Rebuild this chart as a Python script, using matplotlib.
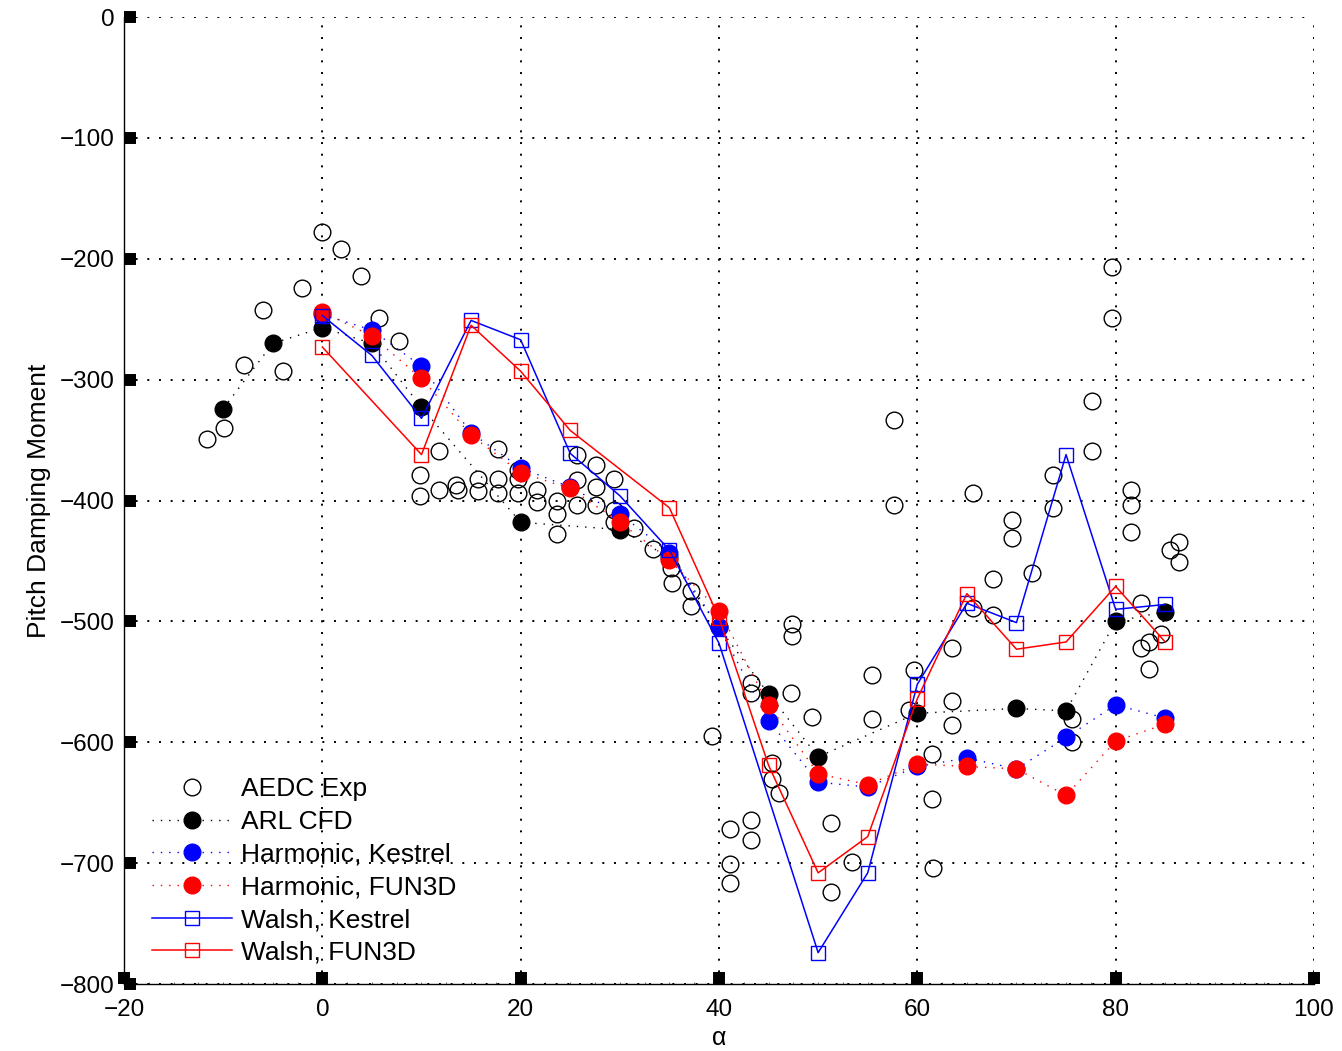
import matplotlib
matplotlib.use("Agg")
import matplotlib.pyplot as plt
from matplotlib.ticker import MultipleLocator

plt.rcParams['font.family'] = ['Liberation Sans', 'DejaVu Sans']

# AEDC experimental data (alpha, pitch damping moment)
aedc_alpha = [-11.6, -9.9, -7.9, -6.0, -4.0, -2.0, 0.0, 1.9, 3.9, 5.7, 7.7,
              9.8, 9.8, 11.8, 11.8, 13.5, 13.7, 15.7, 15.7, 17.7, 17.7, 17.7,
              19.7, 19.7, 19.7, 21.6, 21.6, 23.7, 23.7, 23.7, 25.7, 25.7, 25.7,
              27.6, 27.6, 27.6, 29.4, 29.4, 29.4, 31.4, 33.3, 35.2, 35.3, 37.2,
              37.2, 39.3, 41.1, 41.1, 41.1, 43.2, 43.2, 43.2, 43.2, 45.3, 45.3,
              46.1, 47.4, 47.4, 47.3, 49.4, 51.3, 51.3, 53.4, 55.4, 55.4, 57.6,
              57.6, 59.7, 59.2, 61.5, 61.5, 61.6, 63.5, 63.5, 63.5, 65.6, 65.6,
              67.6, 67.6, 69.6, 69.6, 71.6, 73.7, 73.7, 75.6, 75.6, 77.6, 77.6,
              79.6, 79.6, 81.6, 81.6, 81.6, 82.6, 82.6, 83.4, 83.4, 84.6, 85.5,
              86.4, 86.4]
aedc_moment = [-349, -340, -288, -242, -293, -224, -178, -192, -214, -249, -268,
               -379, -396, -359, -391, -387, -391, -382, -392, -357, -382, -394,
               -375, -382, -394, -391, -401, -400, -411, -428, -362, -383, -404,
               -371, -389, -404, -382, -408, -418, -423, -440, -456, -468, -475,
               -487, -595, -672, -701, -716, -551, -559, -664, -681, -617, -630,
               -642, -502, -512, -559, -579, -667, -724, -699, -544, -581, -333,
               -404, -540, -573, -610, -647, -704, -522, -566, -586, -394, -489,
               -465, -495, -416, -431, -460, -379, -406, -581, -600, -318, -359,
               -207, -249, -391, -404, -426, -485, -522, -517, -539, -510, -441,
               -434, -451]

# ARL CFD
arl_alpha = [-10, -5, 0, 5, 10, 20, 30, 35, 40, 45, 50, 60, 70, 75, 80, 85]
arl_moment = [-324, -270, -257, -270, -323, -418, -424, -447, -505, -560, -612,
              -576, -572, -574, -500, -492]

# Harmonic balance results
harm_alpha = [0, 5, 10, 15, 20, 25, 30, 35, 40, 45, 50, 55, 60, 65, 70, 75, 80, 85]
harm_kestrel = [-246, -259, -289, -344, -373, -389, -411, -443, -505, -582, -633,
                -637, -620, -613, -622, -596, -569, -580]
harm_fun3d = [-244, -264, -299, -346, -377, -390, -418, -449, -491, -569, -626,
              -635, -618, -620, -622, -644, -599, -585]

# Walsh function results
walsh_k_alpha = [0, 5, 10, 15, 20, 25, 30, 35, 40, 50, 55, 60, 65, 70, 75, 80, 85]
walsh_kestrel = [-247, -280, -332, -251, -267, -361, -396, -441, -518, -774, -708,
                 -552, -485, -501, -362, -490, -486]
walsh_f_alpha = [0, 10, 15, 20, 25, 35, 40, 45, 50, 55, 60, 65, 70, 75, 80, 85]
walsh_fun3d = [-273, -362, -255, -293, -342, -406, -497, -619, -708, -678, -564,
               -477, -523, -517, -471, -517]

x_ticks = [-20, 0, 20, 40, 60, 80, 100]
y_ticks = [0, -100, -200, -300, -400, -500, -600, -700, -800]

fig = plt.figure(figsize=(13.42, 10.51), dpi=100)
ax = fig.add_axes([0.0924, 0.0637, 0.8867, 0.9201])

dotted = (0, (1, 5))

ax.plot(aedc_alpha, aedc_moment, linestyle='none', marker='o', markersize=12,
        markerfacecolor='none', markeredgecolor='black', markeredgewidth=1.0,
        label='AEDC Exp')
ax.plot(arl_alpha, arl_moment, linestyle=dotted, color='black', linewidth=1.0,
        marker='o', markersize=12, markerfacecolor='black',
        markeredgecolor='black', label='ARL CFD')
ax.plot(harm_alpha, harm_kestrel, linestyle=dotted, color='blue', linewidth=1.0,
        marker='o', markersize=12, markerfacecolor='blue',
        markeredgecolor='blue', label='Harmonic, Kestrel')
ax.plot(harm_alpha, harm_fun3d, linestyle=dotted, color='red', linewidth=1.0,
        marker='o', markersize=12, markerfacecolor='red',
        markeredgecolor='red', label='Harmonic, FUN3D')
ax.plot(walsh_k_alpha, walsh_kestrel, linestyle='-', color='blue', linewidth=1.1,
        marker='s', markersize=9.5, markerfacecolor='none',
        markeredgecolor='blue', markeredgewidth=1.0, label='Walsh, Kestrel')
ax.plot(walsh_f_alpha, walsh_fun3d, linestyle='-', color='red', linewidth=1.1,
        marker='s', markersize=9.5, markerfacecolor='none',
        markeredgecolor='red', markeredgewidth=1.0, label='Walsh, FUN3D')

ax.set_xlim(-20, 100)
ax.set_ylim(-800, 0)
ax.set_xticks(x_ticks)
ax.set_yticks(y_ticks)
ax.xaxis.set_minor_locator(MultipleLocator(2.5))

ax.grid(True, which='major', linestyle=(0, (1, 5)), color='black', linewidth=1.4)
ax.set_axisbelow(True)

for side in ('top', 'right'):
    ax.spines[side].set_visible(False)
for side in ('left', 'bottom'):
    ax.spines[side].set_color('black')
    ax.spines[side].set_linewidth(1.0)

ax.tick_params(axis='both', which='major', direction='in', length=8.6,
               width=8.6, color='black', labelsize=17.5)
ax.tick_params(axis='x', which='minor', direction='in', length=1.5,
               width=0.6, color='#555555')
ax.tick_params(axis='y', which='major', pad=7)
ax.tick_params(axis='x', which='major', pad=11)

ax.set_xlabel('α', fontsize=18, labelpad=3.5)
ax.set_ylabel('Pitch Damping Moment', fontsize=19, labelpad=6)

leg = ax.legend(loc='lower left', bbox_to_anchor=(0.0235, 0.020), frameon=False,
                fontsize=19, handlelength=3.03, handletextpad=0.34,
                labelspacing=0.33, borderaxespad=0.0, borderpad=0.0)

fig.savefig('out.png', dpi=100)
